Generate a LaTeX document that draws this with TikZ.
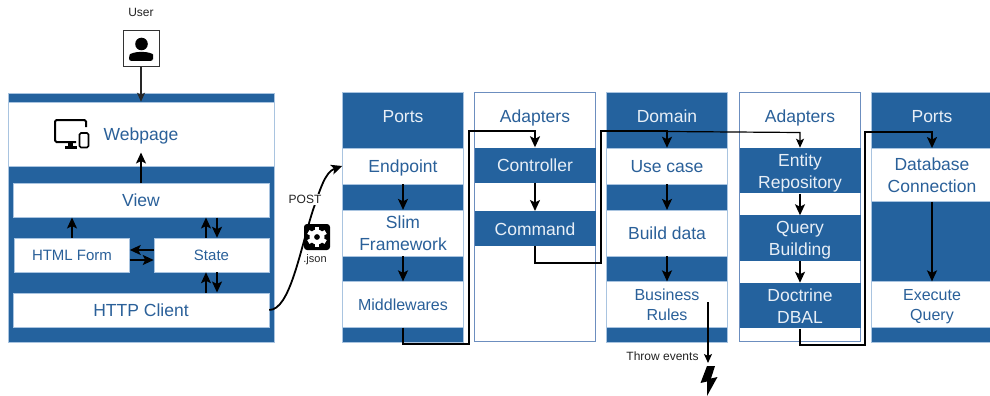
\documentclass[tikz,border=0pt]{standalone}
\usepackage{fontspec}
\setmainfont{Liberation Sans}
\usetikzlibrary{arrows.meta}
\definecolor{hexblue}{HTML}{24629E}
\definecolor{hexedge}{HTML}{A9C4E0}
\definecolor{hexline}{HTML}{6C8EBF}
\definecolor{hextext}{HTML}{2A6099}
\definecolor{hexlight}{HTML}{E8EFF7}
\definecolor{hexgrey}{HTML}{222222}
\newcommand{\bigtwo}[2]{\rule{0pt}{18pt}#1\\#2\rule[-5pt]{0pt}{5pt}}
\newcommand{\midtwo}[2]{\rule{0pt}{16.5pt}#1\\#2\rule[-4.5pt]{0pt}{4.5pt}}
\tikzset{
  bigplain/.style={font=\fontsize{17.5}{21.7}\selectfont},
  midplain/.style={font=\fontsize{16}{19.3}\selectfont},
  bigfont/.style={bigplain,
    execute at begin node={\rule{0pt}{18pt}},execute at end node={\rule[-5pt]{0pt}{5pt}}},
  midfont/.style={midplain,
    execute at begin node={\rule{0pt}{16.5pt}},execute at end node={\rule[-4.5pt]{0pt}{4.5pt}}},
  formfont/.style={font=\fontsize{15}{18}\selectfont,
    execute at begin node={\rule{0pt}{16pt}},execute at end node={\rule[-4.5pt]{0pt}{4.5pt}}},
  smallfont/.style={font=\fontsize{12}{14}\selectfont,text=hexgrey},
  panel/.style={fill=hexblue,draw=hexedge,line width=.5pt,inner sep=0pt},
  outline/.style={fill=white,draw=hexline,line width=.8pt,inner sep=0pt},
  whiteband/.style={fill=white,draw=hexedge,line width=.5pt,inner sep=0pt,align=center,text=hextext},
  blueband/.style={fill=hexblue,draw=none,inner sep=0pt,align=center,text=hexlight},
  headblue/.style={inner sep=0pt,text=hexlight,bigfont},
  headwhite/.style={inner sep=0pt,text=hextext,bigfont},
  flow/.style={draw=black,line width=1.8pt,-{Stealth[length=11pt,width=10pt,inset=2.5pt]}},
  thinflow/.style={draw=black,line width=1.2pt,-{Stealth[length=9pt,width=8pt,inset=2pt]}}
}
\begin{document}
\begin{tikzpicture}[x=1pt,y=-1pt]
\useasboundingbox (0,0) rectangle (990,396);
% left panel
\node[panel,minimum width=266pt,minimum height=249pt] (front) at (141,217.5) {};
\node[whiteband,minimum width=266pt,minimum height=64pt,bigfont] (web) at (141,134) {Webpage};
\node[whiteband,minimum width=256pt,minimum height=34.5pt,bigfont] (view) at (141,200) {View};
\node[whiteband,minimum width=115pt,minimum height=34pt,formfont] (form) at (72,255) {HTML Form};
\node[whiteband,minimum width=115pt,minimum height=34pt,formfont] (state) at (211.5,255) {State};
\node[whiteband,minimum width=256pt,minimum height=34.5pt,bigfont] (http) at (141,310) {HTTP Client};
% user
\node[smallfont,inner sep=0pt] (userlabel) at (141,12.5) {User};
\node[draw=black!80,fill=white,line width=.7pt,minimum size=36pt,inner sep=0pt] (user) at (141,48.5) {};
\fill[black] (141.5,44) circle (6.3);
\fill[black,rounded corners=2.5pt] (129,61) -- (129,57) .. controls (130,53.5) and (136,52) .. (141.5,52) .. controls (147,52) and (153,53.5) .. (153,57) -- (153,61) -- cycle;
% device icon
\draw[black,line width=2pt,rounded corners=1.5pt] (86,127) -- (86,120) -- (55,120) -- (55,142) -- (76,142);
\fill[black] (68,142) rectangle (73,146);
\fill[black] (64.5,146) rectangle (77,148.5);
\draw[black,fill=white,line width=1.7pt,rounded corners=1.5pt] (79.5,133) rectangle (88.5,147.5);
% Ports
\node[panel,minimum width=121pt,minimum height=249.5pt] (ports) at (403,217) {};
\node[whiteband,minimum width=121pt,minimum height=36pt,bigfont] (endpoint) at (403,166) {Endpoint};
\node[whiteband,minimum width=121pt,minimum height=45.7pt,bigplain] (slim) at (403,233) {\bigtwo{Slim}{Framework}};
\node[whiteband,minimum width=121pt,minimum height=45.7pt,midfont] (mid) at (403,304.5) {Middlewares};
\node[headblue] (portshead) at (403,116) {Ports};
% Adapters 1
\node[outline,minimum width=121pt,minimum height=249.5pt] (ad1) at (535,217) {};
\node[headwhite] (ad1head) at (535,116) {Adapters};
\node[blueband,minimum width=121pt,minimum height=35pt,bigfont] (ctrl) at (535,165) {Controller};
\node[blueband,minimum width=121pt,minimum height=35pt,bigfont] (cmd) at (535,228.7) {Command};
% Domain
\node[panel,minimum width=121pt,minimum height=249.5pt] (domain) at (667,217) {};
\node[whiteband,minimum width=121pt,minimum height=36pt,bigfont] (usecase) at (667,166) {Use case};
\node[whiteband,minimum width=121pt,minimum height=45.7pt,bigfont] (build) at (667,233) {Build data};
\node[whiteband,minimum width=121pt,minimum height=45.7pt,midplain] (rules) at (667,304.5) {\midtwo{Business}{Rules}};
\node[headblue] (domainhead) at (667,116) {Domain};
% Adapters 2
\node[outline,minimum width=121pt,minimum height=249.5pt] (ad2) at (800,217) {};
\node[headwhite] (ad2head) at (800,116) {Adapters};
\node[blueband,minimum width=121pt,minimum height=45.5pt,bigplain] (entity) at (800,170.7) {\bigtwo{Entity}{Repository}};
\node[blueband,minimum width=121pt,minimum height=45.5pt,bigplain] (query) at (800,238.2) {\bigtwo{Query}{Building}};
\node[blueband,minimum width=121pt,minimum height=45.5pt,bigplain] (dbal) at (800,305.7) {\bigtwo{Doctrine}{DBAL}};
% Ports 2
\node[panel,minimum width=121pt,minimum height=249.5pt] (ports2) at (932,217) {};
\node[whiteband,minimum width=121pt,minimum height=53.4pt,bigplain] (dbconn) at (932,175) {\bigtwo{Database}{Connection}};
\node[whiteband,minimum width=121pt,minimum height=45.7pt,midplain] (exec) at (932,304.5) {\midtwo{Execute}{Query}};
\node[headblue] (ports2head) at (932,116) {Ports};
% front-end arrows
\draw[thinflow,draw=black!85] (user.south) -- (user.south |- web.north);
\draw[flow] (view.north) -- ++(0,-30);
\draw[flow] (form.north) -- (form.north |- view.south);
\draw[flow] ([xshift=-5.5pt]state.north) -- ([xshift=-5.5pt]state.north |- view.south);
\draw[flow] ([xshift=5.5pt]state.north |- view.south) -- ([xshift=5.5pt]state.north);
\draw[flow] ([yshift=5pt]state.west) -- ([yshift=5pt]state.west -| form.east);
\draw[flow] ([yshift=-5pt]form.east) -- ([yshift=-5pt]form.east -| state.west);
\draw[flow] ([xshift=-5.5pt]state.south |- http.north) -- ([xshift=-5.5pt]state.south);
\draw[flow] ([xshift=5.5pt]state.south) -- ([xshift=5.5pt]state.south |- http.north);
% POST curve
\draw[flow] (http.east) .. controls (290,310) and (300,250) .. (313,210) .. controls (320,190) and (325,172) .. (endpoint.west);
\node[smallfont,fill=white,inner sep=1.5pt] (post) at (305,199.5) {POST};
\node[fill=black,rounded corners=3pt,minimum size=26pt,inner sep=0pt] (gear) at (317,237) {};
\foreach \a in {0,60,...,300}{
  \fill[white,rotate around={\a:(gear.center)}] ([xshift=-2.2pt]gear.center) ++(0,-10) rectangle ++(4.4,4);
}
\fill[white,even odd rule] (gear.center) circle (7.5) (gear.center) circle (3);
\node[font=\fontsize{11}{13}\selectfont,text=hexgrey,inner sep=0pt] (json) at (315,259.5) {.json};
% backend arrows
\draw[flow] (endpoint.south) -- (slim.north);
\draw[flow] (slim.south) -- (mid.north);
\draw[flow] (mid.south) -- (403,344) -- (469,344) -- (469,131) -- (ctrl.north |- 0,131) -- (ctrl.north);
\draw[flow] (ctrl.south) -- (cmd.north);
\draw[flow] (cmd.south) -- (535,263) -- (601,263) -- (601,131) -- (667,131) -- (usecase.north);
\draw[flow] (usecase.south) -- (build.north);
\draw[flow] (build.south) -- (rules.north);
\draw[thinflow] (667,131.5) -- (800,132.5) -- (entity.north);
\draw[flow] (entity.south) -- (query.north);
\draw[flow] (query.south) -- (dbal.north);
\draw[flow] (dbal.south) -- (800,345) -- (865,345) -- (865,132) -- (932,132) -- (dbconn.north);
\draw[flow] (dbconn.south) -- (exec.north);
% events
\coordinate (evstart) at (708,302);
\coordinate (evend) at (708,363);
\draw[thinflow] (evstart) -- (evend);
\node[smallfont,inner sep=0pt] (events) at (662.5,356) {Throw events};
\fill[black] (707,366) -- (700.5,383) -- (707,381.5) -- (707,396) -- (717.5,377) -- (711,378.5) -- (715,366) -- cycle;
\end{tikzpicture}
\end{document}
